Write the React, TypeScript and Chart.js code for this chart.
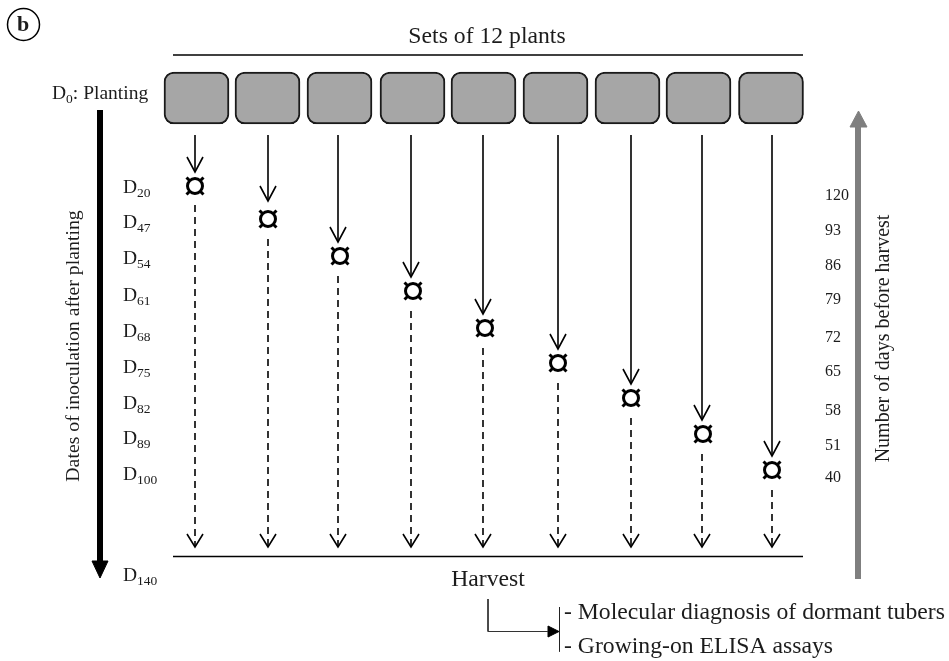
import React, { useEffect, useRef } from "react";
import { Chart, registerables } from "chart.js";

Chart.register(...registerables);

const setCenters = [196.5, 267.5, 339.5, 412.5, 483.5, 555.5, 627.5, 698.5, 771];
const boxTop = 72;
const boxBottom = 124;
const columnX = [195, 268, 338, 411, 483, 558, 631, 702, 772];
const markerX = [195, 268, 340, 413, 485, 558, 631, 703, 772];
const markerY = [186, 219, 256, 291, 328, 363, 398, 434, 470];
const solidStart = 135;
const solidEnd = [172, 201, 242, 277, 314, 349, 384, 420, 456];
const dashStart = [205, 239, 276, 311, 348, 383, 418, 454, 490];
const dashEnd = 547;
const inoculationDays = ["20", "47", "54", "61", "68", "75", "82", "89", "100"];
const inoculationLabelY = [187, 222, 258, 295, 331, 367, 403, 438, 474];
const daysBefore = ["120", "93", "86", "79", "72", "65", "58", "51", "40"];
const daysBeforeY = [195, 230, 265, 299, 337, 371, 410, 445, 477];

type Pt = { x: number; y: number };
const line = (pts: number[][], color = "#000", width = 1.6, dash: number[] = [], order = 5, fill = false) => ({
  type: "scatter" as const,
  data: pts.map(([x, y]) => ({ x, y })) as Pt[],
  showLine: true,
  borderColor: color,
  backgroundColor: color,
  borderWidth: width,
  borderDash: dash,
  pointRadius: 0,
  tension: 0,
  fill: fill ? "shape" : false,
  order,
  clip: false,
});

const head = (x: number, y: number, w = 8, h = 15) => [
  [x - w, y - h],
  [x, y],
  [x + w, y - h],
];

function App() {
  const ref = useRef<HTMLCanvasElement>(null);
  useEffect(() => {
    if (!ref.current) return;
    const serif = '"Liberation Serif", "Times New Roman", serif';
    const ink = "#1c1c1c";
    const text = (ctx: CanvasRenderingContext2D, s: string, x: number, y: number, size: number, align: CanvasTextAlign = "left", weight = "") => {
      ctx.font = `${weight} ${size}px ${serif}`;
      ctx.textAlign = align;
      ctx.fillText(s, x, y);
      return ctx.measureText(s).width;
    };
    const sub = (ctx: CanvasRenderingContext2D, n: string, x: number, y: number, tail = "") => {
      let cx = x + text(ctx, "D", x, y, 19.5);
      cx += text(ctx, n, cx, y + 4, 13.5);
      if (tail) text(ctx, tail, cx, y, 19.5);
    };
    const labelsPlugin = {
      id: "labels",
      afterDatasetsDraw(chart: Chart) {
        const ctx = chart.ctx;
        ctx.save();
        ctx.fillStyle = ink;
        ctx.textBaseline = "alphabetic";
        text(ctx, "b", 23, 31, 22, "center", "bold");
        text(ctx, "Sets of 12 plants", 487, 43, 23.7, "center");
        text(ctx, "Harvest", 488, 586, 23.7, "center");
        text(ctx, "- Molecular diagnosis of dormant tubers", 564, 619, 23.7);
        text(ctx, "- Growing-on ELISA assays", 564, 653, 23.7);
        sub(ctx, "0", 52, 99, ": Planting");
        inoculationDays.forEach((d, i) => sub(ctx, d, 123, inoculationLabelY[i] + 6));
        sub(ctx, "140", 123, 581);
        daysBefore.forEach((d, i) => text(ctx, d, 825, daysBeforeY[i] + 5, 16));
        ctx.save();
        ctx.translate(79, 346);
        ctx.rotate(-Math.PI / 2);
        text(ctx, "Dates of inoculation after planting", 0, 0, 19.8, "center");
        ctx.restore();
        ctx.save();
        ctx.translate(889, 338.5);
        ctx.rotate(-Math.PI / 2);
        text(ctx, "Number of days before harvest", 0, 0, 20, "center");
        ctx.restore();
        ctx.restore();
      },
    };
    const chart = new Chart(ref.current, {
      type: "scatter",
      data: {
        datasets: [
          {
            type: "bar",
            data: setCenters.map((x) => ({ x, y: [boxTop, boxBottom] })),
            backgroundColor: "#a6a6a6",
            borderColor: "#1a1a1a",
            borderWidth: 2,
            borderRadius: 10,
            borderSkipped: false,
            barThickness: 65,
            grouped: false,
            order: 6,
          },
          line([[173, 55], [803, 55]], "#000", 1.6),
          line([[173, 556.5], [803, 556.5]], "#000", 1.6),
          ...columnX.flatMap((x, i) => [
            line([[x, solidStart], [x, solidEnd[i]]]),
            line(head(x, solidEnd[i])),
            line([[x, dashStart[i]], [x, dashEnd]], "#000", 1.6, [7, 5]),
            line(head(x, dashEnd, 8, 13)),
          ]),
          line([[100, 110], [100, 565]], "#000", 6),
          line([[92, 561], [108, 561], [100, 578], [92, 561]], "#000", 1, [], 5, true),
          line([[858, 579], [858, 125]], "#7f7f7f", 6),
          line([[850, 127], [867, 127], [858.5, 111], [850, 127]], "#7f7f7f", 1, [], 5, true),
          line([[488, 599], [488, 631.5], [548, 631.5]], "#333", 1),
          line([[548, 626], [559, 631.5], [548, 637], [548, 626]], "#000", 1, [], 5, true),
          line([[559.5, 607], [559.5, 651.5]], "#222", 1),
          {
            type: "scatter",
            data: markerX.map((x, i) => ({ x, y: markerY[i] })),
            pointStyle: "crossRot",
            pointRadius: 12,
            pointBorderWidth: 3,
            pointBorderColor: "#000",
            showLine: false,
            order: 3,
          },
          {
            type: "scatter",
            data: markerX.map((x, i) => ({ x, y: markerY[i] })),
            pointStyle: "circle",
            pointRadius: 7.5,
            pointBorderWidth: 3,
            pointBorderColor: "#000",
            pointBackgroundColor: "#fff",
            showLine: false,
            order: 2,
          },
          {
            type: "scatter",
            data: [{ x: 23.5, y: 24.5 }],
            pointStyle: "circle",
            pointRadius: 16,
            pointBorderWidth: 1.5,
            pointBorderColor: "#000",
            pointBackgroundColor: "#fff",
            showLine: false,
            order: 2,
          },
        ] as any,
      },
      options: {
        responsive: false,
        animation: false,
        layout: { padding: 0, autoPadding: false },
        plugins: { legend: { display: false }, tooltip: { enabled: false } },
        scales: {
          x: { type: "linear", min: 0, max: 949, display: false, offset: false },
          y: { type: "linear", min: 0, max: 661, reverse: true, display: false },
        },
      },
      plugins: [labelsPlugin],
    });
    return () => chart.destroy();
  }, []);
  return (
    <canvas
      ref={ref}
      width={949}
      height={661}
      style={{ position: "fixed", left: 0, top: 0, width: 949, height: 661, background: "#fff" }}
    />
  );
}

export default App;
